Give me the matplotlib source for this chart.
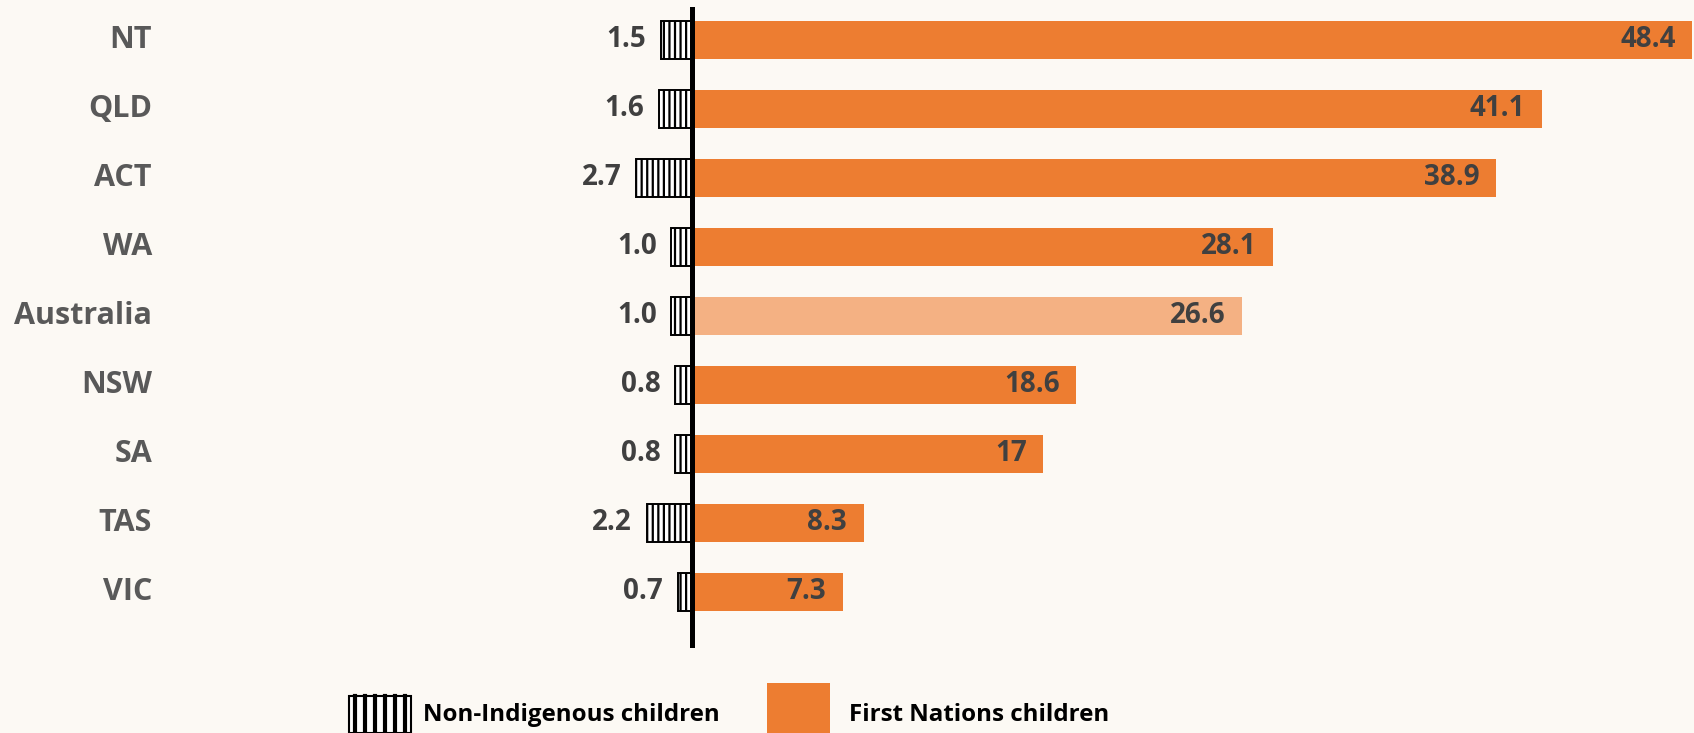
import matplotlib
matplotlib.use("Agg")
import matplotlib.pyplot as plt
from matplotlib.patches import Rectangle
from matplotlib.lines import Line2D

categories = ["NT", "QLD", "ACT", "WA", "Australia", "NSW", "SA", "TAS", "VIC"]
first_nations = [48.4, 41.1, 38.9, 28.1, 26.6, 18.6, 17, 8.3, 7.3]
non_indigenous = [1.5, 1.6, 2.7, 1.0, 1.0, 0.8, 0.8, 2.2, 0.7]
fn_labels = ["48.4", "41.1", "38.9", "28.1", "26.6", "18.6", "17", "8.3", "7.3"]
ni_labels = ["1.5", "1.6", "2.7", "1.0", "1.0", "0.8", "0.8", "2.2", "0.7"]
legend_labels = ["Non-Indigenous children", "First Nations children"]

BG = "#FCF9F4"
ORANGE = "#ED7D31"
LIGHT = "#F4B183"
FONT = ["Open Sans", "DejaVu Sans"]

plt.rcParams["font.family"] = FONT
plt.rcParams["hatch.linewidth"] = 1.6

W, H = 1694, 733
fig = plt.figure(figsize=(W / 100, H / 100), dpi=100, facecolor=BG)
ax = fig.add_axes([0, (H - 648) / H, 1, (648 - 7) / H])
ax.set_facecolor(BG)

scale = 20.67
ax.set_xlim(-692 / scale, (W - 692) / scale)
ax.set_ylim((648 - 40) / 69, (7 - 40) / 69)

ys = list(range(len(categories)))
colors = [LIGHT if c == "Australia" else ORANGE for c in categories]
ax.barh(ys, first_nations, height=0.55, color=colors, edgecolor="none", zorder=2)
ax.barh(ys, [-v for v in non_indigenous], height=0.55, color="white",
        edgecolor="black", hatch="|||", linewidth=1.4, zorder=2)
ax.axvline(0, color="black", lw=3.6, zorder=5)

for y, v, lab in zip(ys, first_nations, fn_labels):
    ax.annotate(lab, xy=(v, y), xytext=(-12.0, 0), textcoords="offset points",
                ha="right", va="center", fontsize=20, fontweight="bold",
                color="#404040", zorder=6)
for y, v, lab in zip(ys, non_indigenous, ni_labels):
    ax.annotate(lab, xy=(-v, y), xytext=(-10.5, 0), textcoords="offset points",
                ha="right", va="center", fontsize=20, fontweight="bold",
                color="#404040", zorder=6)

trans = ax.get_yaxis_transform()
for y, c in zip(ys, categories):
    ax.text(152 / W, y, c, transform=trans, ha="right", va="center",
            fontsize=22, fontweight="bold", color="#595959")

for s in ax.spines.values():
    s.set_visible(False)
ax.set_xticks([])
ax.set_yticks([])

# legend (manual)
lx0, lx1, ltop = 349, 411, 696
fig.add_artist(Rectangle((lx0 / W, 0), (lx1 - lx0) / W, (H - ltop) / H,
                         transform=fig.transFigure, facecolor="white",
                         edgecolor="black", linewidth=1.5))
for k in range(6):
    xs = lx0 + 6 + k * 10
    fig.add_artist(Line2D([xs / W, xs / W], [0, (H - ltop) / H],
                          transform=fig.transFigure, color="black", lw=3.0))
fig.text(423 / W, (H - 715) / H, legend_labels[0], ha="left", va="center",
         fontsize=17.4, fontweight="bold", color="black")
fig.add_artist(Rectangle((767 / W, 0), 63 / W, (H - 683) / H,
                         transform=fig.transFigure, facecolor=ORANGE,
                         edgecolor="none"))
fig.text(849 / W, (H - 715) / H, legend_labels[1], ha="left", va="center",
         fontsize=17.4, fontweight="bold", color="black")

fig.savefig("out.png", dpi=100, facecolor=BG)
